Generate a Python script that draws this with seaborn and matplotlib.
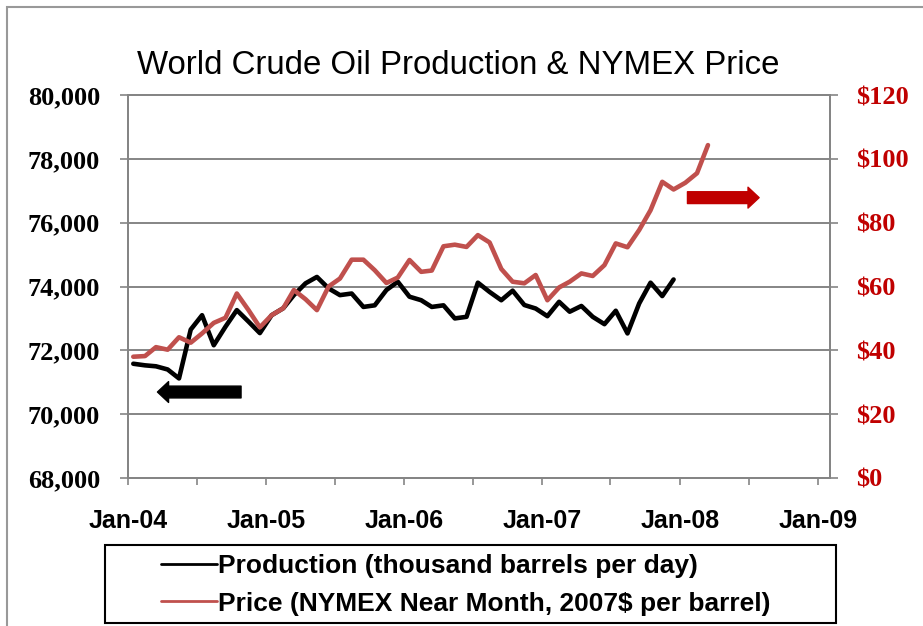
import pandas as pd
import numpy as np
import matplotlib
matplotlib.use("Agg")
import matplotlib.pyplot as plt
import matplotlib.dates as mdates
from matplotlib.lines import Line2D
from matplotlib.patches import Rectangle
from matplotlib.ticker import FuncFormatter, MultipleLocator
import seaborn as sns

##############################################
### DATA #####################################
##############################################

# monthly production, Jan-04 .. Dec-07 (thousand barrels per day)
production = [71580, 71530, 71500, 71400, 71120, 72650, 73100, 72160, 72740, 73260, 72900, 72540,
              73100, 73320, 73730, 74100, 74300, 73940, 73730, 73780, 73360, 73410, 73890, 74150,
              73680, 73570, 73360, 73410, 73000, 73050, 74120, 73830, 73570, 73870, 73420, 73310,
              73070, 73520, 73210, 73390, 73050, 72820, 73240, 72530, 73470, 74120, 73700, 74220]

# monthly NYMEX near month price, Jan-04 .. Mar-08 (2007$ per barrel)
price = [38.0, 38.2, 41.0, 40.2, 44.1, 42.4, 45.3, 48.6, 50.2, 57.8, 52.6, 47.2,
         51.0, 53.2, 58.9, 56.0, 52.6, 60.0, 62.5, 68.4, 68.4, 65.1, 61.1, 62.8,
         68.3, 64.6, 65.0, 72.6, 73.1, 72.4, 76.1, 73.8, 65.5, 61.5, 61.0, 63.6,
         55.7, 59.7, 61.5, 64.1, 63.3, 66.7, 73.5, 72.3, 77.7, 83.9, 92.8, 90.4,
         92.5, 95.5, 104.3]

prod_label = "Production (thousand barrels per day)"
price_label = "Price (NYMEX Near Month, 2007$ per barrel)"
title = "World Crude Oil Production & NYMEX Price"

prod_dates = pd.date_range("2004-01-01", periods=len(production), freq="MS") + pd.Timedelta(days=14)
price_dates = pd.date_range("2004-01-01", periods=len(price), freq="MS") + pd.Timedelta(days=14)
df_prod = pd.DataFrame({"date": prod_dates, "value": production})
df_price = pd.DataFrame({"date": price_dates, "value": price})

##############################################
### PLOT #####################################
##############################################

sns.set_theme(style="white")
plt.rcParams["font.family"] = ["Liberation Sans", "DejaVu Sans"]
plt.rcParams["text.color"] = "black"

grey = "#858585"
red_line = "#C0504D"
red_text = "#C00000"
narrow = ["Liberation Sans Narrow", "Liberation Sans", "DejaVu Sans"]

fig = plt.figure(figsize=(9.23, 6.26), dpi=100)
ax = fig.add_axes([128 / 923, 1 - 478 / 626, (830 - 128) / 923, (478 - 95) / 626])
ax2 = ax.twinx()

sns.lineplot(data=df_prod, x="date", y="value", ax=ax, color="black", lw=3.3)
sns.lineplot(data=df_price, x="date", y="value", ax=ax2, color=red_line, lw=3.3)

ax.set_xlim(pd.Timestamp("2004-01-01"), pd.Timestamp("2009-02-01"))
ax.set_ylim(68000, 80000)
ax2.set_ylim(0, 120)
ax.set_xlabel("")
ax.set_ylabel("")
ax2.set_ylabel("")

# grid
ax.yaxis.set_major_locator(MultipleLocator(2000))
ax.grid(axis="y", color=grey, lw=1.4)
ax.grid(axis="x", visible=False)
ax2.grid(False)
for a in (ax, ax2):
    for s in a.spines.values():
        s.set_color(grey)
        s.set_linewidth(1.4)

# x ticks: labels each January, tick marks every 6 months
ax.xaxis.set_major_locator(mdates.YearLocator())
ax.xaxis.set_major_formatter(mdates.DateFormatter("Jan-%y"))
ax.xaxis.set_minor_locator(mdates.MonthLocator(bymonth=[7]))
ax.tick_params(axis="x", which="both", direction="out", length=5, width=1.2, color=grey, pad=17,
               bottom=True, labelcolor="black")
for t in ax.get_xticklabels():
    t.set_fontfamily(narrow)
    t.set_fontweight("bold")
    t.set_fontsize(18)

# left y ticks
ax.yaxis.set_major_formatter(FuncFormatter(lambda v, p: f"{v:,.0f}"))
ax.tick_params(axis="y", direction="out", length=6, width=1.2, color=grey, pad=14, left=True,
               labelcolor="black")
for t in ax.get_yticklabels():
    t.set_fontfamily("Liberation Serif")
    t.set_fontweight("bold")
    t.set_fontsize(19)

# right y ticks
ax2.yaxis.set_major_locator(MultipleLocator(20))
ax2.yaxis.set_major_formatter(FuncFormatter(lambda v, p: f"${v:.0f}"))
ax2.tick_params(axis="y", direction="out", length=6, width=1.2, color=grey, pad=13, right=True,
                labelcolor=red_text)
for t in ax2.get_yticklabels():
    t.set_fontfamily("Liberation Serif")
    t.set_fontweight("bold")
    t.set_fontsize(19)

# title
fig.text(458 / 923, 1 - 65 / 626, title, ha="center", va="center", fontsize=23.8,
         family="Liberation Sans", color="black")

# axis arrows
ax.annotate("", xy=(0.038, 0.2245), xytext=(0.165, 0.2245), xycoords="axes fraction",
            arrowprops=dict(arrowstyle="simple,head_width=1.5,head_length=0.8,tail_width=0.85",
                            color="black", mutation_scale=10))
ax2.annotate("", xy=(0.903, 0.732), xytext=(0.793, 0.732), xycoords="axes fraction",
             arrowprops=dict(arrowstyle="simple,head_width=1.5,head_length=0.8,tail_width=0.85",
                             color=red_text, mutation_scale=10))

# legend with its own box
handles = [Line2D([], [], color="black", lw=2), Line2D([], [], color=red_line, lw=2)]
leg = fig.legend(handles, [prod_label, price_label], loc="center",
                 bbox_to_anchor=(466 / 923, 1 - 585 / 626), frameon=False,
                 prop={"family": narrow, "weight": "bold", "size": 19},
                 handlelength=2.1, handletextpad=0.05, labelspacing=0.5)
for t in leg.get_texts():
    t.set_color("black")
fig.patches.append(Rectangle((105 / 923, 1 - 623 / 626), 731 / 923, 78 / 626, transform=fig.transFigure,
                             fill=False, edgecolor="black", lw=1.5))

# outer chart border
fig.patches.append(Rectangle((7 / 923, -0.05), 1.1, 1.05 - 7 / 626, transform=fig.transFigure,
                             fill=False, edgecolor="#999999", lw=1.5, clip_on=False))

fig.savefig("out.png", dpi=100)
